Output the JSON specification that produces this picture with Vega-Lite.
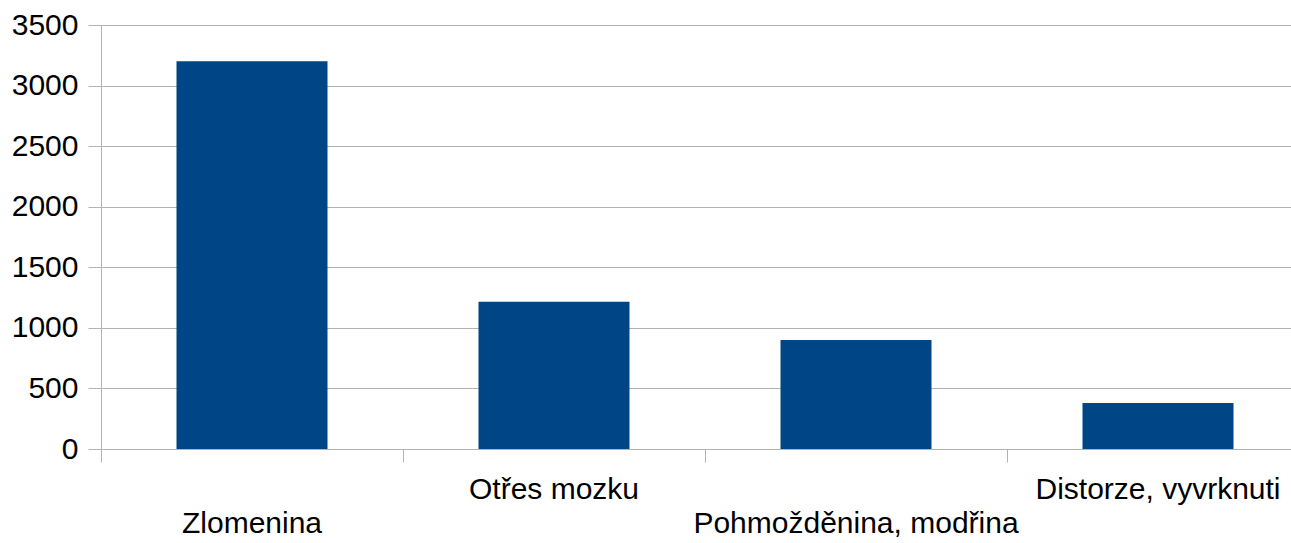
{
  "$schema": "https://vega.github.io/schema/vega-lite/v6.json",
  "autosize": {"type": "none"},
  "padding": {"left": 101, "top": 25, "right": 0, "bottom": 94},
  "width": 1208,
  "height": 424,
  "background": "white",
  "config": {
    "view": {"stroke": null},
    "font": "Liberation Sans"
  },
  "data": {
    "values": [
      {"kategorie": "Zlomenina", "pocet": 3200},
      {"kategorie": "Otřes mozku", "pocet": 1215},
      {"kategorie": "Pohmožděnina, modřina", "pocet": 900},
      {"kategorie": "Distorze, vyvrknuti", "pocet": 380}
    ]
  },
  "mark": {"type": "bar", "color": "#004586", "width": {"band": 0.5}},
  "encoding": {
    "x": {
      "field": "kategorie",
      "type": "nominal",
      "sort": null,
      "scale": {"paddingInner": 0, "paddingOuter": 0},
      "axis": {
        "title": null,
        "bandPosition": 0,
        "labelAngle": 0,
        "labelFont": "Liberation Sans",
        "labelFontSize": 30,
        "labelColor": "#000000",
        "labelBaseline": "top",
        "labelPadding": 12,
        "labelLineHeight": 34,
        "labelLimit": 0,
        "labelExpr": "indexof(['Zlomenina','Pohmožděnina, modřina'], datum.label) >= 0 ? ['', datum.label] : datum.label",
        "labelOverlap": false,
        "labelBound": false,
        "labelFlush": false,
        "tickSize": 13,
        "tickColor": "#b3b3b3",
        "tickWidth": 1,
        "domainColor": "#b3b3b3",
        "domainWidth": 1,
        "grid": false
      }
    },
    "y": {
      "field": "pocet",
      "type": "quantitative",
      "scale": {"domain": [0, 3500], "nice": false},
      "axis": {
        "title": null,
        "format": "d",
        "values": [0, 500, 1000, 1500, 2000, 2500, 3000, 3500],
        "labelFont": "Liberation Sans",
        "labelFontSize": 30,
        "labelColor": "#000000",
        "labelPadding": 10,
        "tickSize": 13,
        "tickColor": "#b3b3b3",
        "domainColor": "#b3b3b3",
        "gridColor": "#b3b3b3",
        "grid": true,
        "labelOverlap": false,
        "labelFlush": false
      }
    }
  }
}
